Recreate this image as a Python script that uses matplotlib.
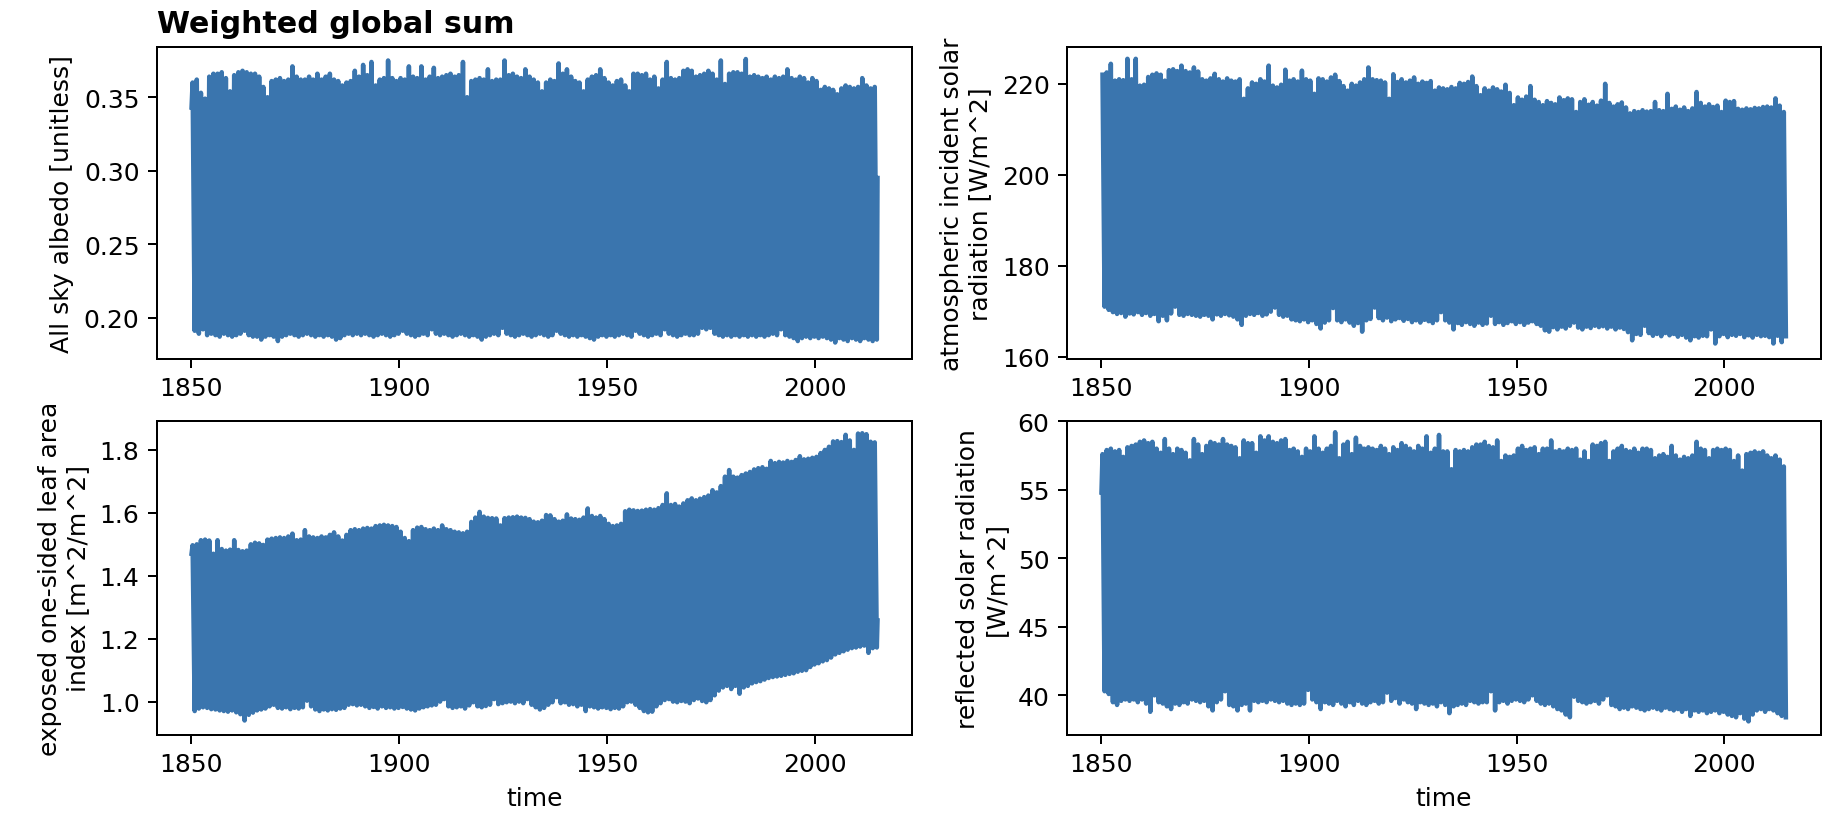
import numpy as np
import matplotlib
matplotlib.use("Agg")
import matplotlib.pyplot as plt

# yearly envelope of the monthly global sums (max / min of each year)
years = np.arange(1850, 2015)

albedo_max = [
    0.360, 0.362, 0.353, 0.349, 0.364, 0.366, 0.366, 0.367, 0.363, 0.354,
    0.365, 0.367, 0.368, 0.367, 0.366, 0.366, 0.364, 0.357, 0.350, 0.361,
    0.362, 0.363, 0.361, 0.362, 0.371, 0.364, 0.362, 0.362, 0.364, 0.362,
    0.366, 0.362, 0.364, 0.366, 0.362, 0.361, 0.358, 0.360, 0.361, 0.368,
    0.364, 0.372, 0.365, 0.374, 0.358, 0.362, 0.363, 0.375, 0.363, 0.361,
    0.363, 0.362, 0.371, 0.364, 0.363, 0.371, 0.362, 0.364, 0.370, 0.363,
    0.364, 0.365, 0.366, 0.364, 0.365, 0.374, 0.350, 0.361, 0.362, 0.363,
    0.362, 0.369, 0.361, 0.362, 0.362, 0.375, 0.365, 0.366, 0.364, 0.363,
    0.369, 0.364, 0.362, 0.360, 0.354, 0.360, 0.362, 0.361, 0.373, 0.366,
    0.369, 0.364, 0.361, 0.360, 0.354, 0.362, 0.364, 0.365, 0.369, 0.363,
    0.360, 0.358, 0.361, 0.362, 0.358, 0.354, 0.366, 0.366, 0.365, 0.366,
    0.362, 0.364, 0.356, 0.362, 0.374, 0.363, 0.362, 0.363, 0.368, 0.369,
    0.368, 0.364, 0.365, 0.366, 0.368, 0.366, 0.362, 0.375, 0.359, 0.366,
    0.367, 0.367, 0.366, 0.376, 0.364, 0.365, 0.364, 0.363, 0.364, 0.362,
    0.364, 0.363, 0.364, 0.369, 0.363, 0.362, 0.364, 0.363, 0.360, 0.363,
    0.361, 0.355, 0.357, 0.356, 0.355, 0.352, 0.356, 0.358, 0.357, 0.356,
    0.357, 0.363, 0.358, 0.356, 0.357]
albedo_min = [
    0.191, 0.189, 0.192, 0.188, 0.189, 0.188, 0.187, 0.189, 0.188, 0.187,
    0.188, 0.189, 0.191, 0.188, 0.187, 0.187, 0.185, 0.187, 0.188, 0.187,
    0.184, 0.187, 0.188, 0.189, 0.188, 0.187, 0.188, 0.189, 0.188, 0.187,
    0.188, 0.187, 0.188, 0.187, 0.185, 0.186, 0.188, 0.189, 0.188, 0.189,
    0.188, 0.189, 0.188, 0.187, 0.188, 0.189, 0.188, 0.187, 0.188, 0.189,
    0.191, 0.189, 0.188, 0.187, 0.188, 0.189, 0.188, 0.192, 0.189, 0.188,
    0.189, 0.188, 0.187, 0.188, 0.189, 0.188, 0.187, 0.188, 0.187, 0.185,
    0.187, 0.188, 0.189, 0.188, 0.193, 0.189, 0.188, 0.187, 0.188, 0.189,
    0.188, 0.187, 0.188, 0.189, 0.188, 0.187, 0.188, 0.191, 0.189, 0.188,
    0.187, 0.188, 0.187, 0.188, 0.187, 0.186, 0.185, 0.187, 0.188, 0.187,
    0.188, 0.187, 0.188, 0.189, 0.188, 0.187, 0.191, 0.189, 0.188, 0.187,
    0.188, 0.189, 0.188, 0.192, 0.189, 0.188, 0.187, 0.188, 0.189, 0.188,
    0.188, 0.189, 0.193, 0.192, 0.193, 0.189, 0.188, 0.187, 0.188, 0.187,
    0.188, 0.187, 0.188, 0.187, 0.188, 0.187, 0.188, 0.187, 0.188, 0.189,
    0.188, 0.192, 0.188, 0.187, 0.186, 0.184, 0.186, 0.187, 0.186, 0.187,
    0.186, 0.187, 0.186, 0.185, 0.183, 0.186, 0.185, 0.184, 0.186, 0.185,
    0.184, 0.186, 0.185, 0.184, 0.185]
albedo_first, albedo_last = 0.343, 0.295

solar_max = [
    222.0, 222.5, 224.4, 220.7, 221.0, 220.8, 225.5, 221.0, 225.5, 219.6,
    219.8, 221.5, 222.0, 222.3, 222.0, 220.7, 223.0, 223.2, 222.8, 224.0,
    222.8, 222.5, 223.6, 222.7, 221.0, 220.7, 221.2, 222.2, 221.0, 220.5,
    221.2, 220.7, 220.5, 221.0, 216.7, 219.0, 220.3, 220.0, 221.0, 220.5,
    224.0, 219.6, 219.2, 219.8, 223.1, 220.7, 221.0, 220.5, 222.9, 221.0,
    220.7, 217.8, 221.2, 221.0, 220.5, 221.4, 222.0, 220.6, 219.5, 218.5,
    220.0, 219.6, 220.3, 221.0, 223.6, 221.0, 220.8, 220.7, 220.3, 216.7,
    222.1, 220.4, 221.0, 220.3, 220.7, 221.4, 220.0, 220.5, 220.2, 220.6,
    218.5, 219.2, 219.0, 218.8, 219.3, 219.0, 220.2, 220.0, 220.4, 221.6,
    219.5, 217.5, 219.0, 218.5, 219.2, 218.8, 218.3, 219.8, 218.0, 215.3,
    217.0, 216.5, 217.2, 219.5, 216.5, 216.0, 215.3, 216.2, 215.8, 215.5,
    217.0, 216.4, 216.8, 216.6, 213.8, 216.0, 216.6, 215.4, 216.0, 215.2,
    216.3, 220.0, 215.8, 215.0, 215.5, 215.9, 214.8, 213.5, 214.0, 213.8,
    214.2, 213.9, 214.0, 216.0, 214.2, 214.0, 217.8, 214.5, 215.0, 214.3,
    214.8, 214.0, 214.6, 218.2, 215.8, 215.0, 215.5, 214.9, 215.2, 213.8,
    216.3, 216.0, 216.2, 214.5, 214.3, 214.6, 214.4, 214.7, 214.6, 214.9,
    215.0, 214.8, 216.8, 215.2, 213.8]
solar_min = [
    171.0, 170.3, 169.8, 169.4, 169.6, 168.8, 169.5, 169.3, 169.8, 169.2,
    169.6, 169.0, 169.4, 167.8, 169.0, 168.0, 169.5, 171.0, 169.2, 169.0,
    169.4, 169.2, 169.0, 168.8, 169.2, 169.0, 168.2, 169.3, 169.0, 169.4,
    169.1, 168.8, 168.2, 167.0, 169.0, 169.4, 169.2, 169.6, 169.0, 169.3,
    169.9, 170.8, 169.2, 168.8, 169.0, 168.2, 168.0, 167.8, 168.2, 167.6,
    168.0, 167.2, 166.2, 167.5, 168.0, 170.7, 168.0, 167.6, 168.2, 167.5,
    166.8, 167.4, 165.5, 168.0, 168.3, 170.8, 168.5, 168.0, 168.6, 167.8,
    168.2, 168.5, 167.9, 168.3, 167.6, 168.0, 167.5, 168.1, 167.8, 167.4,
    168.0, 169.8, 168.0, 167.5, 166.0, 167.4, 167.0, 167.6, 167.2, 166.8,
    167.5, 167.0, 167.3, 169.0, 167.2, 167.6, 167.0, 167.4, 167.8, 167.2,
    167.6, 167.0, 167.5, 167.8, 167.2, 166.8, 165.8, 165.5, 166.5, 166.0,
    166.6, 166.2, 166.8, 167.5, 166.4, 166.0, 166.6, 166.3, 166.8, 166.5,
    166.7, 166.2, 166.6, 166.0, 166.4, 166.1, 165.4, 163.6, 165.0, 164.8,
    166.8, 165.2, 164.6, 165.0, 164.5, 165.2, 164.7, 165.0, 164.4, 164.8,
    164.2, 163.6, 164.5, 164.2, 164.6, 164.5, 166.0, 162.9, 164.5, 165.0,
    164.3, 164.8, 164.6, 165.0, 164.3, 164.7, 164.2, 164.8, 164.5, 164.6,
    164.3, 162.9, 164.6, 163.2, 164.5]

lai_max = [
    1.497, 1.500, 1.513, 1.515, 1.512, 1.470, 1.513, 1.485, 1.480, 1.483,
    1.513, 1.482, 1.478, 1.480, 1.500, 1.505, 1.503, 1.498, 1.515, 1.518,
    1.520, 1.522, 1.520, 1.525, 1.534, 1.513, 1.515, 1.545, 1.525, 1.522,
    1.520, 1.525, 1.522, 1.530, 1.538, 1.525, 1.512, 1.530, 1.545, 1.548,
    1.545, 1.550, 1.552, 1.550, 1.558, 1.560, 1.562, 1.560, 1.558, 1.555,
    1.540, 1.520, 1.510, 1.545, 1.553, 1.555, 1.548, 1.545, 1.550, 1.545,
    1.560, 1.548, 1.545, 1.540, 1.538, 1.535, 1.540, 1.571, 1.585, 1.603,
    1.588, 1.584, 1.583, 1.582, 1.560, 1.583, 1.585, 1.586, 1.588, 1.585,
    1.584, 1.580, 1.572, 1.570, 1.575, 1.593, 1.592, 1.580, 1.572, 1.575,
    1.595, 1.582, 1.580, 1.578, 1.585, 1.614, 1.590, 1.585, 1.590, 1.580,
    1.565, 1.558, 1.560, 1.565, 1.605, 1.610, 1.608, 1.606, 1.607, 1.610,
    1.612, 1.610, 1.615, 1.625, 1.662, 1.625, 1.628, 1.620, 1.630, 1.640,
    1.646, 1.640, 1.645, 1.650, 1.655, 1.672, 1.665, 1.685, 1.715, 1.736,
    1.715, 1.712, 1.720, 1.725, 1.730, 1.738, 1.742, 1.745, 1.740, 1.765,
    1.758, 1.762, 1.760, 1.765, 1.762, 1.768, 1.780, 1.770, 1.772, 1.775,
    1.778, 1.790, 1.800, 1.810, 1.827, 1.828, 1.825, 1.848, 1.830, 1.800,
    1.852, 1.853, 1.850, 1.826, 1.824]
lai_min = [
    0.970, 0.978, 0.982, 0.980, 0.976, 0.975, 0.972, 0.970, 0.968, 0.972,
    0.966, 0.960, 0.940, 0.958, 0.965, 0.972, 0.975, 0.978, 0.985, 0.990,
    0.980, 0.978, 0.982, 0.976, 0.980, 0.978, 0.982, 1.003, 0.985, 0.975,
    0.970, 0.975, 0.972, 0.976, 0.974, 0.978, 0.980, 0.990, 0.992, 0.988,
    0.990, 0.985, 0.980, 0.983, 0.978, 0.985, 0.980, 0.982, 0.978, 0.980,
    0.983, 0.978, 0.975, 0.972, 0.978, 0.982, 0.985, 0.988, 0.990, 1.000,
    1.008, 0.985, 0.980, 0.982, 0.985, 0.978, 0.988, 0.998, 0.985, 0.982,
    0.986, 0.990, 1.008, 0.992, 0.995, 0.998, 1.000, 0.995, 1.000, 0.995,
    1.008, 0.990, 0.982, 0.975, 0.980, 0.990, 0.998, 1.014, 0.995, 0.998,
    0.990, 0.992, 0.985, 0.990, 0.970, 0.985, 0.982, 0.978, 0.982, 0.980,
    0.976, 0.980, 0.978, 0.985, 0.998, 1.000, 0.990, 0.980, 0.970, 0.966,
    0.968, 0.985, 0.995, 1.005, 1.008, 1.000, 0.998, 1.002, 1.000, 0.995,
    1.005, 1.010, 1.002, 0.998, 1.005, 1.020, 1.035, 1.045, 1.050, 1.040,
    1.050, 1.025, 1.045, 1.050, 1.058, 1.062, 1.065, 1.070, 1.075, 1.078,
    1.080, 1.082, 1.085, 1.088, 1.090, 1.095, 1.098, 1.100, 1.110, 1.118,
    1.122, 1.128, 1.132, 1.140, 1.150, 1.155, 1.160, 1.165, 1.170, 1.172,
    1.175, 1.178, 1.155, 1.170, 1.172]
lai_first, lai_last = 1.470, 1.258

refl_max = [
    57.6, 57.9, 58.0, 57.8, 57.9, 57.4, 58.1, 58.2, 58.3, 58.5,
    58.6, 58.4, 58.5, 58.0, 57.7, 58.7, 58.0, 57.6, 58.0, 57.9,
    57.7, 57.15, 58.7, 58.3, 57.6, 58.2, 58.5, 58.4, 58.3, 58.7,
    58.3, 58.2, 58.1, 57.3, 58.6, 58.4, 58.4, 57.7, 58.9, 58.6,
    58.9, 58.5, 58.4, 58.6, 58.7, 57.9, 58.0, 57.8, 57.4, 58.0,
    57.8, 58.9, 58.0, 57.7, 58.0, 58.2, 59.2, 57.3, 58.3, 58.5,
    57.6, 58.8, 58.2, 58.0, 58.1, 58.0, 57.9, 58.2, 58.0, 57.6,
    58.1, 57.9, 58.4, 58.2, 58.0, 57.8, 58.2, 58.0, 58.9, 57.7,
    58.0, 59.0, 57.8, 57.8, 56.5, 57.9, 57.8, 57.9, 57.8, 58.1,
    58.3, 58.3, 58.5, 58.2, 58.1, 58.6, 57.1, 57.5, 57.4, 57.5,
    58.0, 58.2, 57.9, 58.0, 58.1, 57.6, 58.0, 58.0, 58.6, 57.8,
    57.9, 57.8, 58.0, 57.9, 58.0, 57.2, 57.8, 57.1, 58.3, 58.2,
    58.4, 58.5, 57.1, 57.8, 58.0, 58.2, 57.9, 57.8, 58.0, 57.7,
    58.0, 58.0, 57.9, 57.3, 57.5, 57.6, 57.4, 58.2, 57.5, 57.2,
    57.4, 57.3, 57.5, 58.5, 58.0, 57.9, 57.3, 57.9, 58.0, 57.9,
    58.0, 57.9, 57.1, 57.5, 56.4, 57.6, 57.7, 57.8, 57.7, 57.8,
    57.5, 57.3, 57.5, 57.2, 56.7]
refl_min = [
    40.3, 40.1, 39.5, 39.3, 39.6, 39.7, 39.6, 39.7, 39.5, 39.7,
    39.4, 38.8, 40.0, 39.5, 39.4, 39.2, 39.0, 39.4, 39.3, 39.5,
    39.4, 39.7, 39.6, 39.5, 39.6, 39.2, 38.9, 39.5, 39.7, 40.3,
    39.3, 39.2, 38.9, 39.3, 39.4, 38.9, 39.6, 39.5, 39.6, 39.5,
    39.7, 39.6, 39.5, 39.6, 39.4, 39.3, 39.4, 39.3, 39.4, 40.4,
    39.7, 39.5, 39.0, 39.5, 39.4, 39.3, 39.6, 39.4, 39.2, 39.5,
    39.3, 39.6, 39.4, 39.3, 39.5, 39.6, 39.4, 39.5, 40.2, 39.6,
    39.8, 39.4, 39.7, 39.5, 39.4, 39.0, 39.5, 39.4, 39.3, 39.4,
    39.2, 39.5, 39.3, 38.7, 39.2, 39.3, 39.4, 39.3, 39.6, 39.5,
    39.4, 39.5, 39.5, 40.3, 38.9, 39.5, 39.6, 39.4, 39.6, 39.7,
    39.6, 39.5, 39.7, 40.0, 39.6, 39.4, 39.3, 39.4, 39.2, 39.0,
    38.9, 38.6, 38.4, 39.9, 39.6, 39.5, 39.4, 39.5, 39.6, 39.4,
    39.7, 40.0, 39.3, 39.2, 39.0, 39.1, 39.0, 39.2, 39.1, 39.0,
    38.9, 39.0, 39.1, 39.0, 38.9, 39.1, 39.0, 38.9, 39.0, 38.8,
    39.0, 38.5, 38.9, 38.8, 38.9, 38.7, 38.8, 38.9, 38.7, 38.8,
    38.6, 38.5, 38.4, 38.7, 38.3, 38.1, 38.6, 38.9, 39.0, 38.8,
    39.0, 38.9, 38.7, 38.5, 38.4]
refl_first = 54.8

xticks = [1850, 1900, 1950, 2000]
ylabels = ["All sky albedo [unitless]",
           "atmospheric incident solar\nradiation [W/m^2]",
           "exposed one-sided leaf area\nindex [m^2/m^2]",
           "reflected solar radiation\n[W/m^2]"]
yticks = [[0.20, 0.25, 0.30, 0.35], [160, 180, 200, 220],
          [1.0, 1.2, 1.4, 1.6, 1.8], [40, 45, 50, 55, 60]]
ylims = [(0.1718, 0.3842), (159.5, 228.1), (0.894, 1.892), (37.11, 60.02)]


def monthly(hi, lo, first=None, last=None):
    # one peak month and one trough month per year, in time order
    t, v = [], []
    if first is not None:
        t.append(1850 + 0.5 / 12)
        v.append(first)
    for y, a, b in zip(years, hi, lo):
        t += [y + 3.5 / 12, y + 9.5 / 12]
        v += [a, b]
    if last is not None:
        t.append(2014 + 11.5 / 12)
        v.append(last)
    return t, v


series = [monthly(albedo_max, albedo_min, albedo_first, albedo_last),
          monthly(solar_max, solar_min),
          monthly(lai_max, lai_min, lai_first, lai_last),
          monthly(refl_max, refl_min, refl_first)]

fig = plt.figure(figsize=(1848 / 180, 830 / 180), dpi=180)
positions = [[0.0850, 0.5663, 0.4085, 0.3759],
             [0.5774, 0.5663, 0.4080, 0.3759],
             [0.0850, 0.1133, 0.4085, 0.3783],
             [0.5774, 0.1133, 0.4080, 0.3783]]

for i, pos in enumerate(positions):
    ax = fig.add_axes(pos)
    t, v = series[i]
    # slightly wider than the default so the yearly swings close up like the monthly data
    ax.plot(t, v, color='#3a75ae', lw=1.8)
    ax.set_xlim(1841.75, 2023.25)
    ax.set_xticks(xticks)
    ax.set_yticks(yticks[i])
    ax.set_ylim(*ylims[i])
    ax.set_ylabel(ylabels[i])
    if i >= 2:
        ax.set_xlabel('time')
    if i == 0:
        ax.set_title('Weighted global sum', loc='left', fontweight='bold')

fig.savefig('out.png', dpi=180)
